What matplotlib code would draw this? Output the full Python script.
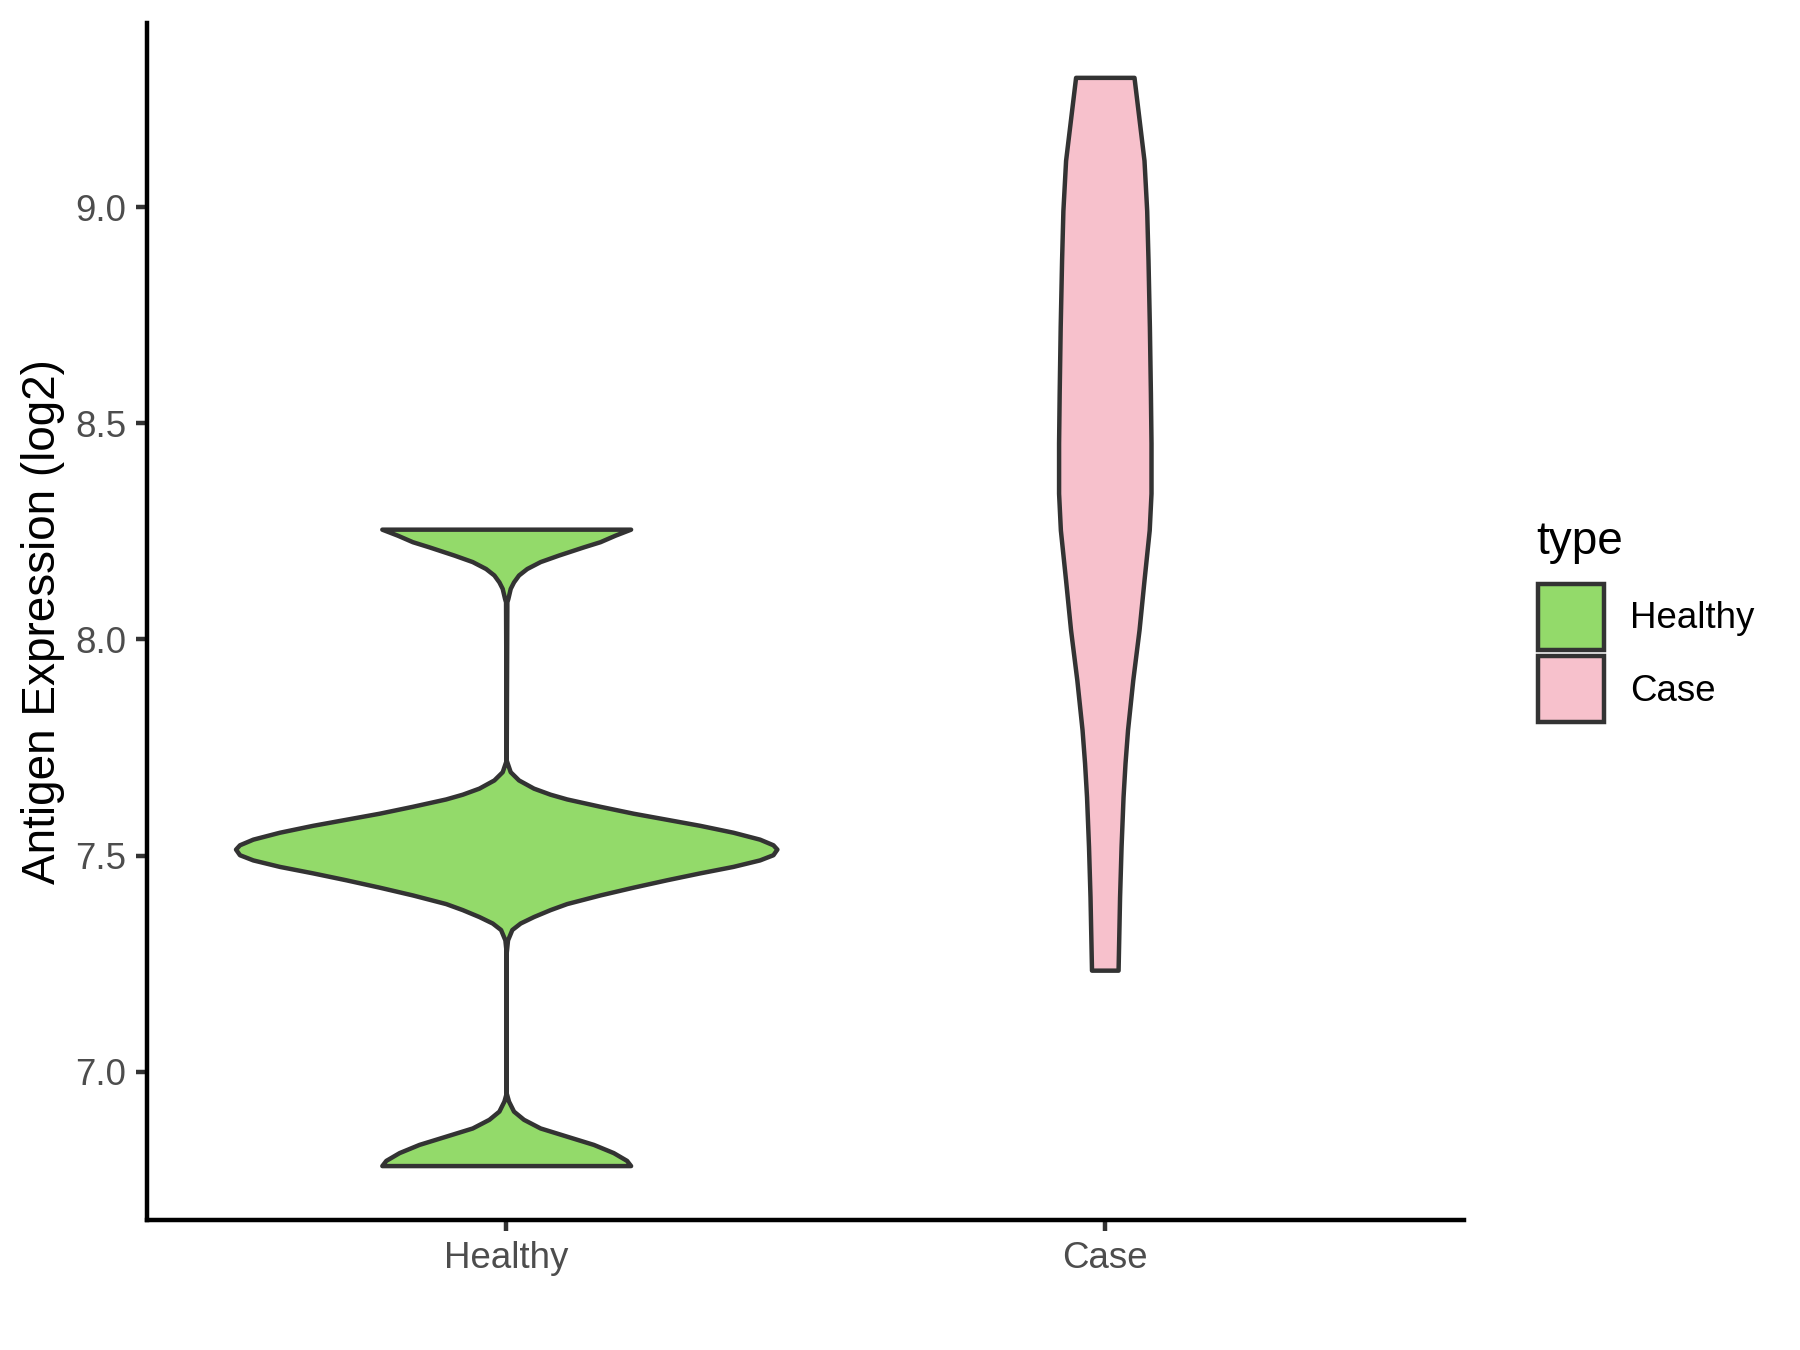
import matplotlib
matplotlib.use('Agg')
import matplotlib.pyplot as plt
from matplotlib.patches import Patch
import numpy as np

plt.rcParams['font.family'] = ['Liberation Sans', 'DejaVu Sans']

# groups and fill colours
categories = ['Healthy', 'Case']
fill_colors = ['#93DA6A', '#F7C1CC']

# violin outlines: expression level and half width
healthy_y = [8.255, 8.241, 8.226, 8.214, 8.195, 8.180, 8.164, 8.149,
             8.133, 8.118, 8.095, 8.087,
             7.721, 7.694, 7.675, 7.656, 7.642, 7.631, 7.614, 7.598,
             7.584, 7.570, 7.554, 7.538, 7.525, 7.515, 7.502, 7.490,
             7.475, 7.460, 7.444, 7.427, 7.409, 7.389, 7.375, 7.359,
             7.344, 7.329, 7.305, 7.275,
             6.951, 6.932, 6.909, 6.890, 6.870, 6.851, 6.832, 6.813,
             6.795, 6.783]
healthy_w = [0.2078, 0.1817, 0.1567, 0.1289, 0.0872, 0.0567, 0.0344, 0.0206,
             0.0122, 0.0067, 0.0028, 0.0011,
             0.0, 0.0067, 0.0206, 0.0456, 0.0733, 0.1011, 0.1567, 0.2122,
             0.2678, 0.3233, 0.3789, 0.4233, 0.4456, 0.4522, 0.4456, 0.4233,
             0.3789, 0.3233, 0.2678, 0.2122, 0.1567, 0.1011, 0.0733, 0.0456,
             0.0233, 0.0094, 0.0022, 0.0,
             0.0, 0.0039, 0.0122, 0.0289, 0.0567, 0.1011, 0.1456, 0.1789,
             0.2011, 0.2078]

case_y = [9.300, 9.223, 9.108, 8.992, 8.877, 8.723, 8.569, 8.454, 8.338,
          8.253, 8.137, 8.022, 7.906, 7.791, 7.714, 7.636, 7.521, 7.405,
          7.235]
case_w = [0.0488, 0.0555, 0.0655, 0.0700, 0.0722, 0.0745, 0.0762, 0.0772,
          0.0772, 0.0742, 0.0655, 0.0572, 0.0467, 0.0380, 0.0338, 0.0305,
          0.0272, 0.0247, 0.0222]

ytick_values = [7.0, 7.5, 8.0, 8.5, 9.0]

fig = plt.figure(figsize=(6, 4.5), dpi=300)
ax = fig.add_axes([0.0817, 0.0963, 0.7316, 0.8867])

profiles = [(healthy_y, healthy_w), (case_y, case_w)]
for i, (ys, ws) in enumerate(profiles):
    ys = np.array(ys)
    ws = np.array(ws)
    pos = i + 1
    ax.fill_betweenx(ys, pos - ws, pos + ws, facecolor=fill_colors[i],
                     edgecolor='#333333', linewidth=1.07, joinstyle='round')

# ggplot style limits: 0.6 on discrete x, 5% on y
all_y = healthy_y + case_y
yr = max(all_y) - min(all_y)
ax.set_ylim(min(all_y) - 0.05 * yr, max(all_y) + 0.05 * yr)
ax.set_xlim(0.4, len(categories) + 0.6)

ax.set_xticks(range(1, len(categories) + 1))
ax.set_xticklabels(categories)
ax.set_yticks(ytick_values)
ax.set_yticklabels(['%.1f' % v for v in ytick_values])

for s in ['top', 'right']:
    ax.spines[s].set_visible(False)
for s in ['left', 'bottom']:
    ax.spines[s].set_linewidth(1.07)
    ax.spines[s].set_color('black')

ax.tick_params(axis='both', length=2.75, width=1.07, color='#333333',
               labelcolor='#4D4D4D', labelsize=8.8, pad=2.2)

ax.set_ylabel('Antigen Expression (log2)', fontsize=11, color='black')
ax.yaxis.set_label_coords(-0.062, 0.5)

# legend: title placed separately, keys stacked with a small gap
fig.text(1536 / 1800, 1 - 542 / 1350, 'type', fontsize=11,
         ha='left', va='center')
handles = [Patch(facecolor=c, edgecolor='#333333', linewidth=1.07)
           for c in fill_colors]
leg = ax.legend(handles, categories, fontsize=8.8, frameon=False,
                loc='center left',
                bbox_to_anchor=(1538 / 1800, 1 - 653 / 1350),
                bbox_transform=fig.transFigure, borderpad=0,
                borderaxespad=0, handlelength=1.8, handleheight=2.39,
                labelspacing=0.19, handletextpad=0.7)

fig.savefig('out.png', dpi=300)
